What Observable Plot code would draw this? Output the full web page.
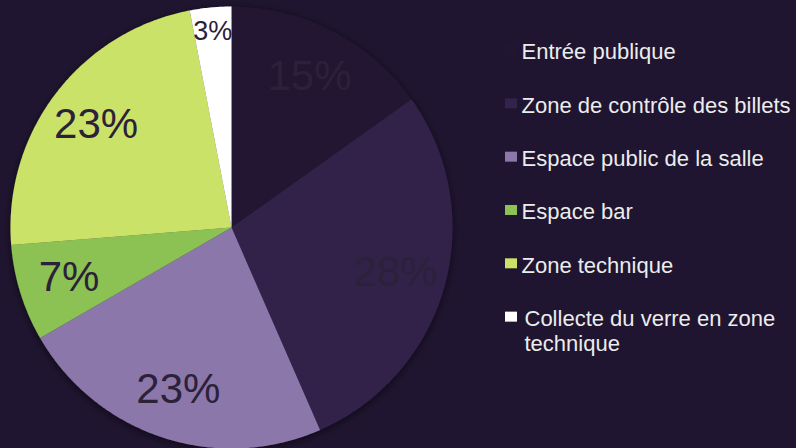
<!DOCTYPE html>
<html>
<head>
<meta charset="utf-8">
<script src="https://cdn.jsdelivr.net/npm/d3@7"></script>
<script src="https://cdn.jsdelivr.net/npm/@observablehq/plot@0.6"></script>
<style>
  html, body { margin: 0; padding: 0; background: #1f1530; }
  #chart { width: 796px; height: 448px; overflow: hidden; }
</style>
</head>
<body>
<div id="chart"></div>
<script>
const categories = [
  "Entrée publique",
  "Zone de contrôle des billets",
  "Espace public de la salle",
  "Espace bar",
  "Zone technique",
  "Collecte du verre en zone technique"
];
const legendLabels = [
  "Entrée publique",
  "Zone de contrôle des billets",
  "Espace public de la salle",
  "Espace bar",
  "Zone technique",
  "Collecte du verre en zone\ntechnique"
];
const values = [15, 28, 23, 7, 23, 3];
const pctLabels = ["15%", "28%", "23%", "7%", "23%", "3%"];
const colors = ["#201630", "#31234a", "#8b77aa", "#8bc253", "#cbe267", "#ffffff"];

const W = 796, H = 448;
const cx = 231, cy = 227, R = 221;

const arcs = d3.pie().sort(null).value(d => d)(values);

const slicePts = arcs.flatMap((a, i) => {
  const n = Math.max(2, Math.ceil((a.endAngle - a.startAngle) / (Math.PI / 360)));
  const pts = [{k: categories[i], x: cx, y: cy}];
  for (let j = 0; j <= n; j++) {
    const t = a.startAngle + (a.endAngle - a.startAngle) * j / n;
    pts.push({k: categories[i], x: cx + R * Math.sin(t), y: cy - R * Math.cos(t)});
  }
  return pts;
});

const labelData = arcs.map((a, i) => {
  const m = (a.startAngle + a.endAngle) / 2;
  const small = values[i] < 5;
  const rf = small ? 0.89 : 0.77;
  return {
    label: pctLabels[i],
    x: cx + R * rf * Math.sin(m),
    y: cy - R * rf * Math.cos(m),
    size: small ? 27 : 42
  };
});

const rowTop = 45, rowStep = 53.33;
const legendData = categories.map((c, i) => ({
  k: c,
  label: legendLabels[i],
  x: i === 5 ? 524 : 521,
  y: rowTop + i * rowStep
}));

const plot = Plot.plot({
  width: W,
  height: H,
  margin: 0,
  style: {background: "#1f1530", fontFamily: "'Liberation Sans', Arial, sans-serif"},
  x: {type: "identity", axis: null},
  y: {type: "identity", axis: null},
  color: {type: "ordinal", domain: categories, range: colors},
  marks: [
    Plot.line(slicePts, {x: "x", y: "y", z: "k", fill: "k", stroke: "none"}),
    Plot.text(labelData, {
      x: "x", y: "y", text: "label", fontSize: "size",
      fill: "#2b2139", textAnchor: "middle"
    }),
    Plot.rect(legendData, {
      x1: 505, x2: 517, y1: d => d.y, y2: d => d.y + 10, fill: "k"
    }),
    Plot.text(legendData, {
      x: "x", y: d => d.y - 4, text: "label", textAnchor: "start", lineAnchor: "top",
      fontSize: 22, lineHeight: 1.14, fill: "#ececec"
    })
  ]
});

const svgNS = "http://www.w3.org/2000/svg";
const defs = document.createElementNS(svgNS, "defs");
defs.innerHTML = `<filter id="pieShadow" x="-20%" y="-20%" width="140%" height="140%">
  <feDropShadow dx="0" dy="2" stdDeviation="4" flood-color="#000" flood-opacity="0.55"/>
</filter>`;
plot.insertBefore(defs, plot.firstChild);
const pieGroup = plot.querySelector('g[aria-label="line"]');
if (pieGroup) pieGroup.setAttribute("filter", "url(#pieShadow)");

document.getElementById("chart").appendChild(plot);
</script>
</body>
</html>
